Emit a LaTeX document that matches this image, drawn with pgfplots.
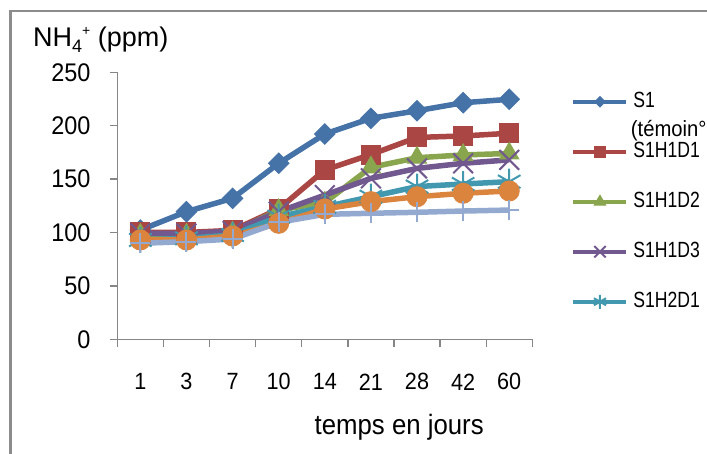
\documentclass[border=0pt]{standalone}
\usepackage{fontspec}
\setmainfont{Liberation Sans}
\newfontfamily\stretchA{Liberation Sans}[FakeStretch=0.80]
\newfontfamily\stretchB{Liberation Sans}[FakeStretch=0.92]
\usepackage{pgfplots}
\pgfplotsset{compat=1.18}
\definecolor{axisgray}{HTML}{868686}
\definecolor{framegray}{HTML}{8C8C8C}
\definecolor{cBlue}{HTML}{4572A7}
\definecolor{cRed}{HTML}{AA4643}
\definecolor{cGreen}{HTML}{89A54E}
\definecolor{cPurple}{HTML}{71588F}
\definecolor{cTeal}{HTML}{4198AF}
\definecolor{cOrange}{HTML}{DB843D}
\definecolor{cLight}{HTML}{93A9CF}
\begin{document}
\begin{tikzpicture}[x=1pt,y=1pt]
\useasboundingbox (0,0) rectangle (707,454);
\draw[framegray, line width=2.5pt] (10.5,-5) -- (10.5,443) -- (720,443);
\node[anchor=base west, inner sep=0pt, font=\fontsize{27}{30}\selectfont] at (33,407.3)
  {NH\raisebox{-0.2em}{\fontsize{18}{18}\selectfont 4}\raisebox{0.42em}{\fontsize{14}{14}\selectfont +} (ppm)};
\node[anchor=base, inner sep=0pt, font=\fontsize{28}{32}\stretchB] at (399.2,19) {temps en jours};
\begin{axis}[
  at={(117.3pt,114.7pt)}, anchor=south west,
  scale only axis, width=415pt, height=267pt,
  xmin=0.5, xmax=9.5, ymin=0, ymax=250,
  clip=false,
  axis x line*=bottom, axis y line*=left,
  axis line style={-, draw=axisgray, line width=1.3pt},
  /pgf/number format/assume math mode=true,
  tick align=outside,
  tick style={draw=axisgray, line width=1.3pt},
  major tick length=7.6pt, minor tick length=8pt,
  ytick={0,50,...,250},
  xtick={1,...,9},
  xticklabels={1,3,7,10,14,21,28,42,60},
  major x tick style={draw=none},
  minor xtick={0.5,1.5,...,9.5},
  yticklabel style={font=\fontsize{25.5}{28}\stretchB, anchor=east, inner sep=0pt, xshift=-19pt},
  xticklabel style={font=\fontsize{23.5}{26}\stretchB, anchor=center, inner sep=0pt, yshift=-35pt},
  legend image code/.code={\draw[mark repeat=2,mark phase=2,#1] plot coordinates {(0pt,0pt) (26.5pt,0pt) (53pt,0pt)};},
  legend cell align=left,
  legend style={at={(1.095,0.929)}, anchor=north west, draw=none, fill=none, inner sep=0pt, outer sep=0pt,
    row sep=29pt, column sep=5.2pt,
    nodes={inner sep=0pt, text height=16pt, text depth=5pt},
    font=\fontsize{22}{24}\stretchA},
]
\addplot[cBlue, line width=5.5pt, mark=square*, mark size=7.2pt, mark options={rotate=45, solid, fill=cBlue, draw=cBlue, line width=1pt},
  legend image post style={line width=3.5pt, mark size=3.6pt}]
  coordinates {(1,102.3) (2,119.5) (3,132) (4,164.8) (5,192.2) (6,206.9) (7,214) (8,221.5) (9,224.7)};
\addlegendentry{S1}
\addplot[cRed, line width=5.5pt, mark=square*, mark size=9.5pt, mark options={solid, fill=cRed, draw=cRed, line width=1pt},
  legend image post style={line width=3.5pt, mark size=5.5pt}]
  coordinates {(1,100) (2,100) (3,102) (4,122) (5,158.5) (6,173) (7,189) (8,190.4) (9,192.9)};
\addlegendentry{S1H1D1}
\addplot[cGreen, line width=5.5pt, mark=triangle*, mark size=11pt, mark options={solid, fill=cGreen, draw=cGreen, line width=1pt},
  legend image post style={line width=3.5pt, mark size=6.5pt}]
  coordinates {(1,98) (2,98) (3,100) (4,121) (5,128) (6,161) (7,170) (8,172.6) (9,174)};
\addlegendentry{S1H1D2}
\addplot[cPurple, line width=5.5pt, mark=x, mark size=14pt, mark options={solid, draw=cPurple, line width=2pt},
  legend image post style={line width=3.5pt, mark size=8pt}]
  coordinates {(1,99.2) (2,99) (3,101.4) (4,119.5) (5,135) (6,150.7) (7,160) (8,164.8) (9,168)};
\addlegendentry{S1H1D3}
\addplot[cTeal, line width=5.5pt, mark=asterisk, mark size=13pt, mark options={solid, draw=cTeal, line width=2pt},
  legend image post style={line width=3.5pt, mark size=7pt}]
  coordinates {(1,93) (2,94.5) (3,97.7) (4,114.8) (5,124) (6,133.5) (7,143) (8,145.4) (9,147.6)};
\addlegendentry{S1H2D1}
\addplot[forget plot, cOrange, line width=5.5pt, mark=*, mark size=10pt, mark options={solid, fill=cOrange, draw=cOrange, line width=1pt}]
  coordinates {(1,93) (2,93) (3,96.7) (4,108.6) (5,122) (6,128.9) (7,133.5) (8,136.7) (9,138.9)};
\addplot[forget plot, cLight, line width=5.5pt, mark=+, mark size=10pt, mark options={solid, draw=cLight, line width=2pt}]
  coordinates {(1,89.9) (2,91.4) (3,93.9) (4,109.5) (5,117) (6,118) (7,118.9) (8,120.1) (9,121)};
\end{axis}
\node[anchor=base west, inner sep=0pt, font=\fontsize{22}{24}\stretchB] at (630.7,317.5) {(témoin°};
\end{tikzpicture}
\end{document}
